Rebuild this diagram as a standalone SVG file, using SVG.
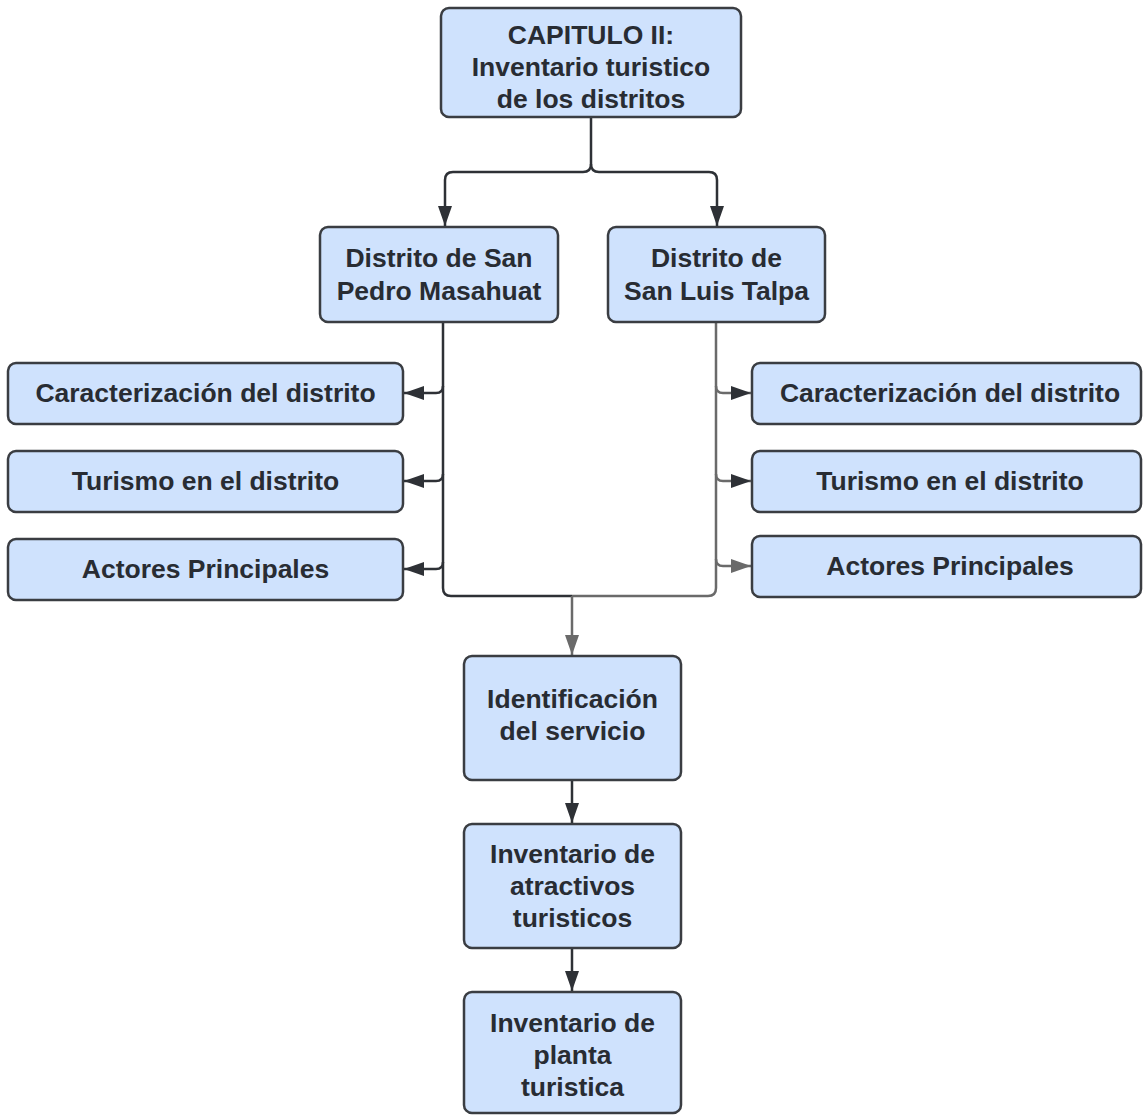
<svg xmlns="http://www.w3.org/2000/svg" width="1143" height="1115" viewBox="0 0 1143 1115">
<style>
.box{fill:#cfe2fd;stroke:#3a3d42;stroke-width:2.5}
.t{font-family:"Liberation Sans",Arial,sans-serif;font-weight:bold;font-size:26.5px;fill:#282c33;text-anchor:middle}
.c{fill:none;stroke:#2e3136;stroke-width:2.5}
.g{fill:none;stroke:#6a6a6a;stroke-width:2.5}
</style>
<defs>
<marker id="a" viewBox="0 0 20 14" refX="20" refY="7" markerWidth="20" markerHeight="14" orient="auto" markerUnits="userSpaceOnUse">
<path d="M0,0 L20,7 L0,14 z" fill="#2e3136"/>
</marker>
<marker id="ag" viewBox="0 0 20 14" refX="20" refY="7" markerWidth="20" markerHeight="14" orient="auto" markerUnits="userSpaceOnUse">
<path d="M0,0 L20,7 L0,14 z" fill="#6a6a6a"/>
</marker>
</defs>
<rect width="1143" height="1115" fill="#ffffff"/>
<g id="connectors">
<path class="c" d="M591,117 V164 Q591,172 583,172 H453 Q445,172 445,180 V226" marker-end="url(#a)"/>
<path class="c" d="M591,164 Q591,172 599,172 H709 Q717,172 717,180 V226" marker-end="url(#a)"/>
<path class="c" d="M443,322 V588 Q443,596 451,596 H572"/>
<path class="g" d="M716,322 V588 Q716,596 708,596 H572"/>
<path class="g" d="M572,596 V655" marker-end="url(#ag)"/>
<path class="c" d="M443,386 Q443,393 436,393 H404" marker-end="url(#a)"/>
<path class="c" d="M443,474 Q443,481 436,481 H404" marker-end="url(#a)"/>
<path class="c" d="M443,562 Q443,569 436,569 H404" marker-end="url(#a)"/>
<path class="g" d="M716,386 Q716,393 723,393 H751" marker-end="url(#a)"/>
<path class="g" d="M716,474 Q716,481 723,481 H751" marker-end="url(#a)"/>
<path class="g" d="M716,559 Q716,566 723,566 H751" marker-end="url(#ag)"/>
<path class="c" d="M572,780 V823" marker-end="url(#a)"/>
<path class="c" d="M572,948 V991" marker-end="url(#a)"/>
</g>
<g id="capitulo">
<rect class="box" x="441" y="8" width="300" height="109" rx="8"/>
<text class="t" x="591" y="44">CAPITULO II:</text>
<text class="t" x="591" y="76">Inventario turistico</text>
<text class="t" x="591" y="108">de los distritos</text>
</g>
<g id="sanpedro">
<rect class="box" x="320" y="227" width="238" height="95" rx="8"/>
<text class="t" x="439" y="267">Distrito de San</text>
<text class="t" x="439" y="300">Pedro Masahuat</text>
</g>
<g id="sanluis">
<rect class="box" x="608" y="227" width="217" height="95" rx="8"/>
<text class="t" x="716.5" y="267">Distrito de</text>
<text class="t" x="716.5" y="300">San Luis Talpa</text>
</g>
<g id="l-caract">
<rect class="box" x="8" y="363" width="395" height="61" rx="8"/>
<text class="t" x="205.5" y="402">Caracterización del distrito</text>
</g>
<g id="l-turismo">
<rect class="box" x="8" y="451" width="395" height="61" rx="8"/>
<text class="t" x="205.5" y="490">Turismo en el distrito</text>
</g>
<g id="l-actores">
<rect class="box" x="8" y="539" width="395" height="61" rx="8"/>
<text class="t" x="205.5" y="578">Actores Principales</text>
</g>
<g id="r-caract">
<rect class="box" x="752" y="363" width="389" height="61" rx="8"/>
<text class="t" x="950" y="402">Caracterización del distrito</text>
</g>
<g id="r-turismo">
<rect class="box" x="752" y="451" width="389" height="61" rx="8"/>
<text class="t" x="950" y="490">Turismo en el distrito</text>
</g>
<g id="r-actores">
<rect class="box" x="752" y="536" width="389" height="61" rx="8"/>
<text class="t" x="950" y="575">Actores Principales</text>
</g>
<g id="identificacion">
<rect class="box" x="464" y="656" width="217" height="124" rx="8"/>
<text class="t" x="572.5" y="708">Identificación</text>
<text class="t" x="572.5" y="740">del servicio</text>
</g>
<g id="atractivos">
<rect class="box" x="464" y="824" width="217" height="124" rx="8"/>
<text class="t" x="572.5" y="863">Inventario de</text>
<text class="t" x="572.5" y="895">atractivos</text>
<text class="t" x="572.5" y="927">turisticos</text>
</g>
<g id="planta">
<rect class="box" x="464" y="992" width="217" height="121" rx="8"/>
<text class="t" x="572.5" y="1032">Inventario de</text>
<text class="t" x="572.5" y="1064">planta</text>
<text class="t" x="572.5" y="1096">turistica</text>
</g>
</svg>
